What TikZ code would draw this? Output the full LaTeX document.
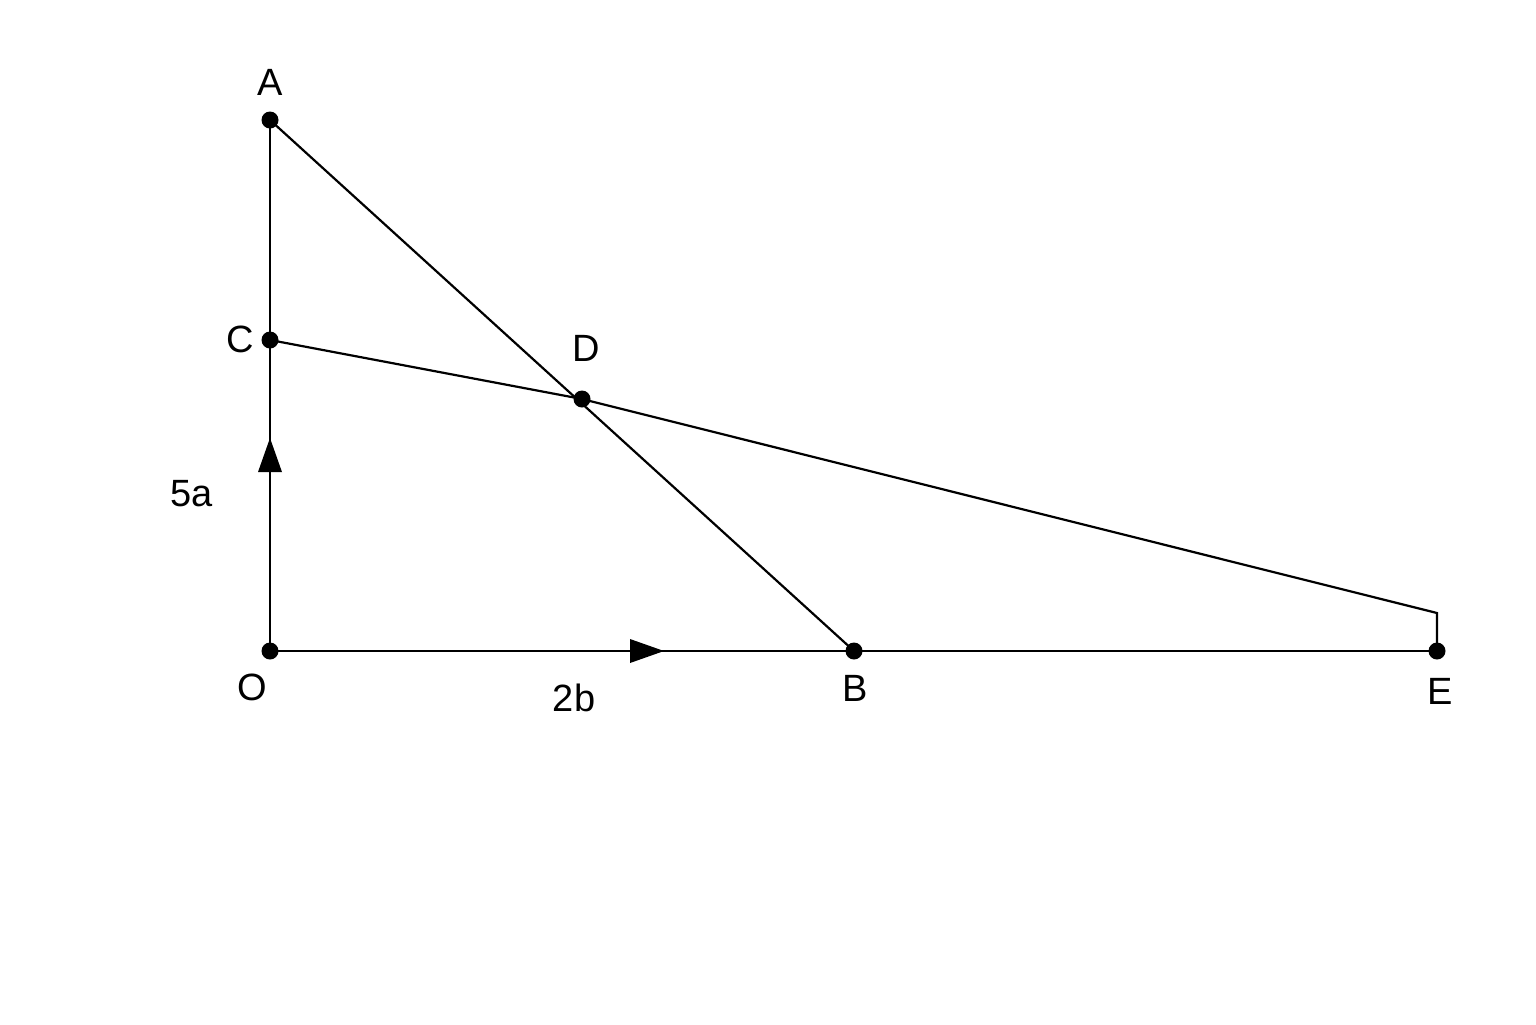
\documentclass[tikz,border=0pt]{standalone}
\usepackage{fontspec}
\setmainfont{Liberation Sans}
\begin{document}
\begin{tikzpicture}[x=0.5pt,y=-0.5pt,
  seg/.style={line width=1.1pt},
  pt/.style={circle,fill=black,inner sep=0pt,minimum size=8.5pt},
  lbl/.style={font=\fontsize{19}{22}\selectfont,inner sep=0pt},
  tri/.style={fill=black}]
\useasboundingbox (0,0) rectangle (1536,1024);
\node[pt] (O) at (270,651) {};
\node[pt] (A) at (270,120) {};
\node[pt] (C) at (270,340) {};
\node[pt] (D) at (582,399) {};
\node[pt] (B) at (854,651) {};
\node[pt] (E) at (1437,651) {};
\coordinate (K) at (1437,613);
\draw[seg] (O.center) -- (A.center);
\draw[seg] (O.center) -- (E.center);
\draw[seg] (A.center) -- (B.center);
\draw[seg,line join=miter] (C.center) -- (D.center) -- (K) -- (E.center);
% arrowheads
\fill[tri] (258,472) -- (282,472) -- (270,438) -- cycle;
\fill[tri] (630,639) -- (630,663) -- (664,651) -- cycle;
% labels
\node[lbl] (lA) at (270,82) {A};
\node[lbl] (lC) at (240,339) {C};
\node[lbl] (lD) at (586,348) {D};
\node[lbl] (l5a) at (192,494) {5a};
\node[lbl] (lO) at (252,687) {O};
\node[lbl] (l2b) at (574,698) {2b};
\node[lbl] (lB) at (855,688) {B};
\node[lbl] (lE) at (1440,691) {E};
\end{tikzpicture}
\end{document}
